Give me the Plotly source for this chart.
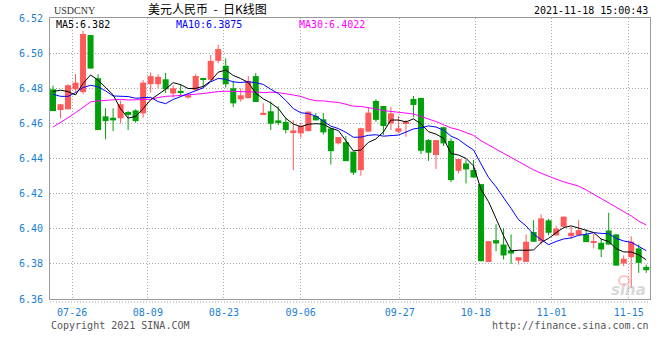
import plotly.graph_objects as go

# ---------------- data ----------------
opens = [6.4794, 6.4676, 6.4680, 6.4794, 6.4779, 6.5103, 6.4857, 6.4640, 6.4632, 6.4629,
         6.4665, 6.4674, 6.4657, 6.4823, 6.4823, 6.4851, 6.4770, 6.4785, 6.4747, 6.4789,
         6.4857, 6.4848, 6.4956, 6.4928, 6.4800, 6.4737, 6.4743, 6.4869, 6.4648, 6.4669,
         6.4617, 6.4608, 6.4545, 6.4543, 6.4556, 6.4642, 6.4623, 6.4571, 6.4486, 6.4493,
         6.4439, 6.4334, 6.4553, 6.4728, 6.4699, 6.4600, 6.4553, 6.4597, 6.4739, 6.4745,
         6.4505, 6.4420, 6.4578, 6.4500, 6.4330, 6.4372, 6.4334, 6.4254, 6.3811, 6.3935,
         6.3910, 6.3878, 6.3819, 6.3811, 6.3981, 6.3930, 6.4048, 6.3962, 6.4011, 6.3958,
         6.3964, 6.3968, 6.3924, 6.3920, 6.3990, 6.3968, 6.3802, 6.3838, 6.3888, 6.3783]
highs = [6.4815, 6.4709, 6.4823, 6.4880, 6.5128, 6.5103, 6.4880, 6.4686, 6.4686, 6.4731,
         6.4670, 6.4680, 6.4846, 6.4890, 6.4880, 6.4888, 6.4817, 6.4823, 6.4760, 6.4880,
         6.4857, 6.4990, 6.5048, 6.4971, 6.4842, 6.4800, 6.4869, 6.4886, 6.4714, 6.4724,
         6.4697, 6.4632, 6.4617, 6.4604, 6.4667, 6.4659, 6.4659, 6.4575, 6.4522, 6.4528,
         6.4439, 6.4576, 6.4692, 6.4737, 6.4699, 6.4692, 6.4642, 6.4619, 6.4756, 6.4745,
         6.4511, 6.4505, 6.4581, 6.4515, 6.4397, 6.4395, 6.4391, 6.4254, 6.3929, 6.4026,
         6.4002, 6.3968, 6.3838, 6.3968, 6.4048, 6.4082, 6.4057, 6.4015, 6.4069, 6.4010,
         6.4050, 6.3996, 6.3971, 6.3943, 6.4091, 6.3968, 6.3848, 6.3958, 6.3910, 6.3796]
lows = [6.4670, 6.4629, 6.4680, 6.4780, 6.4766, 6.4912, 6.4562, 6.4509, 6.4556, 6.4600,
        6.4562, 6.4604, 6.4632, 6.4775, 6.4800, 6.4773, 6.4747, 6.4762, 6.4741, 6.4789,
        6.4804, 6.4848, 6.4943, 6.4804, 6.4693, 6.4724, 6.4743, 6.4722, 6.4648, 6.4562,
        6.4590, 6.4543, 6.4333, 6.4518, 6.4556, 6.4617, 6.4537, 6.4366, 6.4480, 6.4385,
        6.4306, 6.4302, 6.4553, 6.4608, 6.4534, 6.4562, 6.4543, 6.4524, 6.4635, 6.4425,
        6.4386, 6.4340, 6.4471, 6.4266, 6.4315, 6.4258, 6.4292, 6.3815, 6.3811, 6.3872,
        6.3825, 6.3800, 6.3796, 6.3811, 6.3926, 6.3910, 6.3962, 6.3962, 6.4011, 6.3943,
        6.3964, 6.3924, 6.3888, 6.3838, 6.3910, 6.3790, 6.3787, 6.3663, 6.3749, 6.3749]
closes = [6.4670, 6.4709, 6.4817, 6.4832, 6.5109, 6.4912, 6.4562, 6.4613, 6.4617, 6.4709,
          6.4648, 6.4613, 6.4832, 6.4869, 6.4865, 6.4794, 6.4800, 6.4773, 6.4760, 6.4870,
          6.4848, 6.4956, 6.5023, 6.4823, 6.4714, 6.4760, 6.4842, 6.4722, 6.4660, 6.4598,
          6.4602, 6.4562, 6.4560, 6.4585, 6.4667, 6.4617, 6.4549, 6.4442, 6.4522, 6.4385,
          6.4319, 6.4572, 6.4661, 6.4620, 6.4585, 6.4657, 6.4572, 6.4608, 6.4705, 6.4444,
          6.4433, 6.4505, 6.4486, 6.4277, 6.4397, 6.4338, 6.4292, 6.3815, 6.3929, 6.3916,
          6.3848, 6.3859, 6.3838, 6.3926, 6.3926, 6.4059, 6.3977, 6.4000, 6.4069, 6.3977,
          6.3992, 6.3924, 6.3930, 6.3882, 6.3910, 6.3790, 6.3829, 6.3926, 6.3806, 6.3764]

# moving-average values at the left edge (need closes before the window)
ma5_early = [6.4781, 6.4789, 6.4781, 6.4762]
ma10_early = [6.4766, 6.4754, 6.4754, 6.4775, 6.4804, 6.4817, 6.4808, 6.4785, 6.4756]
ma30_early = [6.4579, 6.4604, 6.4632, 6.4661, 6.4690, 6.4722, 6.4728, 6.4731, 6.4735, 6.4737,
              6.4733, 6.4735, 6.4735, 6.4737, 6.4747, 6.4754, 6.4756, 6.4758, 6.4762, 6.4766,
              6.4770, 6.4777, 6.4781, 6.4783, 6.4783, 6.4783, 6.4781, 6.4779, 6.4775]

# latest MA readings as printed in the chart header
ma_names = ["MA5", "MA10", "MA30"]
ma_latest = ["6.382", "6.3875", "6.4022"]

tick_labels = ["07-26", "08-09", "08-23", "09-06", "09-27", "10-18", "11-01", "11-15"]
tick_pos = [2.55, 12.63, 22.76, 32.98, 46.18, 56.30, 66.38, 76.67]

# ---------------- derived ----------------
n = len(closes)
idx = list(range(n))


def sma(k, early):
    out = list(early)
    for i in range(len(early), n):
        out.append(sum(closes[i - k + 1:i + 1]) / k)
    return out


ma5 = sma(5, ma5_early)
ma10 = sma(10, ma10_early)
ma30 = sma(30, ma30_early)

RED = "#ff5a5a"
GREEN = "#00a00a"
MIN_H = 0.0006

up = [i for i in idx if closes[i] >= opens[i]]
dn = [i for i in idx if closes[i] < opens[i]]

fig = go.Figure()


def wick_xy(ids):
    xs, ys = [], []
    for i in ids:
        xs += [i, i, None]
        ys += [lows[i], highs[i], None]
    return xs, ys


for ids, col in ((up, RED), (dn, GREEN)):
    wx, wy = wick_xy(ids)
    fig.add_trace(go.Scatter(x=wx, y=wy, mode="lines", line=dict(color=col, width=1),
                             hoverinfo="skip", showlegend=False))
    fig.add_trace(go.Bar(
        x=ids,
        base=[min(opens[i], closes[i]) for i in ids],
        y=[max(abs(closes[i] - opens[i]), MIN_H) for i in ids],
        width=0.8, marker=dict(color=col, line=dict(width=0)),
        showlegend=False, hoverinfo="skip"))

for vals, col in ((ma30, "#ff00ff"), (ma10, "#0000ff"), (ma5, "#000000")):
    fig.add_trace(go.Scatter(x=idx, y=vals, mode="lines",
                             line=dict(color=col, width=1), showlegend=False,
                             hoverinfo="skip"))

# ---------------- layout ----------------
W, H = 660, 360
ML, MR, MT, MB = 50, 10, 18, 61
PW, PH = W - ML - MR, H - MT - MB


def px(x):
    return (x - ML) / PW


def py(y):
    return (H - MB - y) / PH


MONO = "DejaVu Sans Mono"
BLUE_T = "#1a7fd4"
GRID = "#a8a8a8"

fig.update_layout(
    width=W, height=H, autosize=False,
    margin=dict(l=ML, r=MR, t=MT, b=MB),
    paper_bgcolor="white", plot_bgcolor="white",
    barmode="overlay",
    xaxis=dict(range=[-0.4, n - 0.5], tickmode="array", tickvals=tick_pos, ticktext=tick_labels,
               tickfont=dict(family=MONO, size=10, color=BLUE_T),
               showgrid=True, gridcolor=GRID, griddash="1px,2px", gridwidth=1,
               showline=True, linecolor="#999999", linewidth=1, mirror=True,
               zeroline=False, ticks="", ticklabelstandoff=4, fixedrange=True),
    yaxis=dict(range=[6.36, 6.52], tickmode="linear", tick0=6.36, dtick=0.02, tickformat=".2f",
               tickfont=dict(family=MONO, size=10, color=BLUE_T),
               showgrid=True, gridcolor=GRID, griddash="1px,2px", gridwidth=1,
               showline=True, linecolor="#999999", linewidth=1, mirror=True,
               zeroline=False, ticks="", ticklabelstandoff=4, fixedrange=True),
    font=dict(family=MONO),
)

fig.add_shape(type="line", xref="paper", yref="paper", x0=0, x1=1, y0=py(302), y1=py(302),
              line=dict(color="#a8a8a8", width=1, dash="1px,2px"))

ma_colors = ["#000000", "#0000ff", "#ff00ff"]
ma_x = [54, 174, 297]

ann = [
    dict(text="USDCNY", x=px(52), y=py(11), xanchor="left",
         font=dict(family="Liberation Serif", size=10, color="#333333")),
    dict(text="美元人民币  -  日K线图", x=px(207), y=py(9), xanchor="center",
         font=dict(family="Noto Sans CJK SC", size=12, color="#000000")),
    dict(text="2021-11-18 15:00:43", x=px(650), y=py(11), xanchor="right",
         font=dict(family=MONO, size=10, color="#000000")),
    dict(text="Copyright 2021 SINA.COM", x=px(49), y=py(325), xanchor="left",
         font=dict(family=MONO, size=10, color="#555555")),
    dict(text="http://finance.sina.com.cn", x=px(651), y=py(325), xanchor="right",
         font=dict(family=MONO, size=10, color="#555555")),
    dict(text="<b><i>sina</i></b>", x=px(628), y=py(290), xanchor="center",
         font=dict(family="DejaVu Sans", size=15, color="rgba(190,190,190,0.6)")),
]
for name, val, col, xx in zip(ma_names, ma_latest, ma_colors, ma_x):
    ann.append(dict(text="%s:%s" % (name, val), x=px(xx), y=py(24.5), xanchor="left",
                    font=dict(family=MONO, size=10, color=col)))

for a in ann:
    a.update(xref="paper", yref="paper", showarrow=False, yanchor="middle")
    fig.add_annotation(**a)

fig.add_shape(type="circle", xref="paper", yref="paper",
              x0=px(619), x1=px(629), y0=py(285), y1=py(276),
              line=dict(color="rgba(255,140,140,0.5)", width=2), fillcolor="rgba(255,255,255,0)")

fig.write_html("out.html", config={"displayModeBar": False},
               post_script="document.body.style.margin='0px';")
